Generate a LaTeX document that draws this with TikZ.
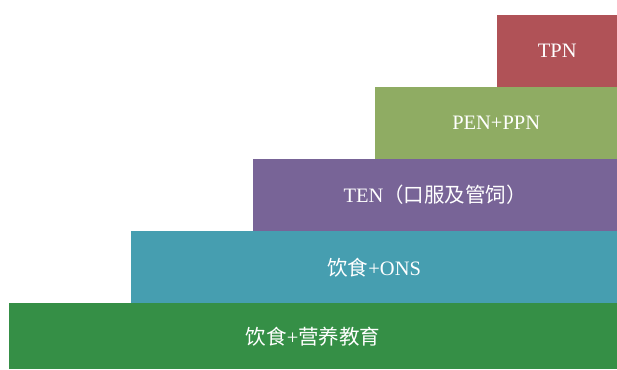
\documentclass[tikz,border=0pt]{standalone}
\usepackage{fontspec}
\setmainfont{Liberation Serif}
\newfontfamily\cjk{Noto Sans CJK SC}
\definecolor{cred}{HTML}{B05257}
\definecolor{colive}{HTML}{8FAC63}
\definecolor{cpurple}{HTML}{786497}
\definecolor{cteal}{HTML}{469EB0}
\definecolor{cgreen}{HTML}{358F46}
\tikzset{
  stepbox/.style={rectangle, inner sep=0pt, anchor=north west, text=white,
    font=\fontsize{20.5}{24}\selectfont, minimum height=72pt},
}
\begin{document}
\begin{tikzpicture}[x=1pt,y=-1pt]
\useasboundingbox (0,0) rectangle (617,369);
\node[stepbox, fill=cgreen, minimum width=608pt, minimum height=66pt] (l1) at (9,303) {{\cjk 饮食}+{\cjk 营养教育}};
\node[stepbox, fill=cteal, minimum width=486pt] (l2) at (131,231) {{\cjk 饮食}+ONS};
\node[stepbox, fill=cpurple, minimum width=364pt] (l3) at (253,159) {TEN{\cjk （口服及管饲）}};
\node[stepbox, fill=colive, minimum width=242pt] (l4) at (375,87) {PEN+PPN};
\node[stepbox, fill=cred, minimum width=120pt] (l5) at (497,15) {TPN};
\end{tikzpicture}
\end{document}
